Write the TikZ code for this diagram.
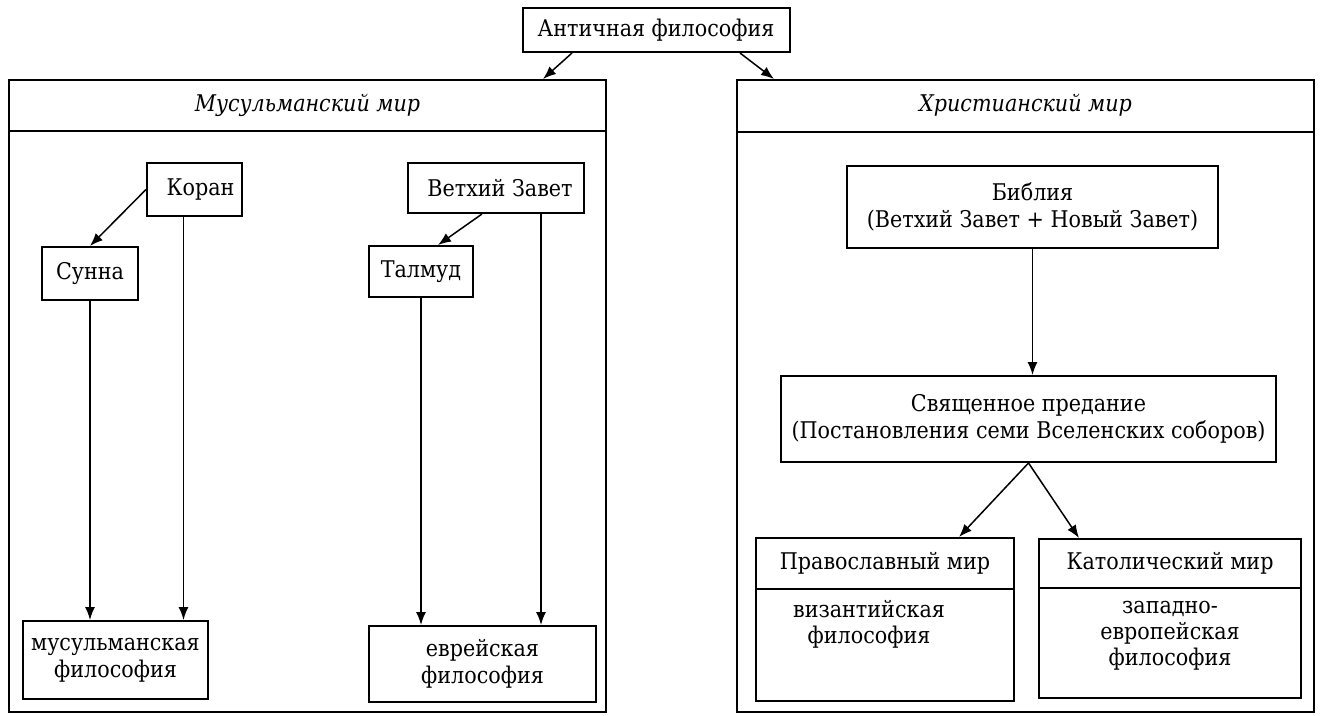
\documentclass[tikz,border=0pt]{standalone}
\usepackage{fontspec}
\setmainfont{DejaVu Serif Condensed}
\usetikzlibrary{positioning, calc, arrows.meta}

\begin{document}
\begin{tikzpicture}[x=1pt, y=-1pt,
            box/.style={rectangle, draw, line width=2pt, inner sep=0pt, align=center, font=\fontsize{23}{27}\selectfont},
            world/.style={rectangle, draw, line width=2pt, inner sep=0pt},
            head/.style={inner sep=0pt, font=\fontsize{23}{27}\selectfont\itshape},
            txt/.style={align=center, inner sep=0pt, font=\fontsize{23}{26}\selectfont},
            link/.style={-{Latex[length=13pt, width=10pt]}, line width=1.5pt},
            divider/.style={line width=2pt}
        ]
            \useasboundingbox (0,0) rectangle (1320,715);

            % Source
            \node[box, minimum width=267pt, minimum height=44pt] (antiq) at (656,30) {Античная философия};

            % Worlds
            \node[world, minimum width=597pt, minimum height=632pt] (muslim) at (307.5,396) {};
            \node[world, minimum width=577pt, minimum height=632pt] (christ) at (1025.5,396) {};
            \draw[divider] ([yshift=-52pt]muslim.north west) -- ([yshift=-52pt]muslim.north east);
            \draw[divider] ([yshift=-53pt]christ.north west) -- ([yshift=-53pt]christ.north east);
            \node[head] (mhead) at ([yshift=-26pt]muslim.north) {Мусульманский мир};
            \node[head] (chead) at ([yshift=-26pt]christ.north) {Христианский мир};

            % Muslim world
            \node[box, minimum width=95pt, minimum height=53pt] (koran) at (194.5,189.5) {\hspace*{12pt}Коран};
            \node[box, minimum width=96pt, minimum height=53pt] (sunna) at (90,273.5) {Сунна};
            \node[box, minimum width=176pt, minimum height=50pt] (tanakh) at (496,188) {\hspace*{8pt}Ветхий Завет};
            \node[box, minimum width=104pt, minimum height=51pt] (talmud) at (421,271.5) {Талмуд};
            \node[box, minimum width=185pt, minimum height=78pt] (mphil) at (115.5,660) {мусульманская\\философия};
            \node[box, minimum width=227pt, minimum height=76pt] (jphil) at (482.5,664) {еврейская\\философия};

            % Christian world
            \node[box, minimum width=371pt, minimum height=82pt] (bible) at (1032.5,207) {Библия\\(Ветхий Завет + Новый Завет)};
            \node[box, minimum width=495pt, minimum height=86pt] (trad) at (1028.5,419) {Священное предание\\(Постановления семи Вселенских соборов)};
            \node[world, minimum width=258pt, minimum height=163pt] (orth) at (885,619.5) {};
            \node[world, minimum width=262pt, minimum height=159pt] (cath) at (1170,618.5) {};
            \draw[divider] ([yshift=-52pt]orth.north west) -- ([yshift=-52pt]orth.north east);
            \draw[divider] ([yshift=-50pt]cath.north west) -- ([yshift=-50pt]cath.north east);
            \node[txt] (orthhead) at ([yshift=-26pt]orth.north) {Православный мир};
            \node[txt] (cathhead) at ([yshift=-25pt]cath.north) {Католический мир};
            \node[txt, anchor=north] (byzphil) at ([xshift=-16pt, yshift=-63pt]orth.north) {византийская\\философия};
            \node[txt, anchor=north] (wphil) at ([yshift=-63pt]cath.north) {западно-\\европейская\\философия};

            % Links
            \draw[link] ([xshift=-84pt]antiq.south) -- ([xshift=235.5pt]muslim.north);
            \draw[link] ([xshift=84pt]antiq.south) -- ([xshift=-251.5pt]christ.north);
            \draw[link] (koran.west) -- (sunna.north);
            \draw[link] ([xshift=-14pt]tanakh.south) -- ([xshift=17pt]talmud.north);
            \draw[link] (sunna.south) -- (sunna.south |- mphil.north);
            \draw[link] ([xshift=-11pt]koran.south) -- ([xshift=-11pt]koran.south |- mphil.north);
            \draw[link] (talmud.south) -- (talmud.south |- jphil.north);
            \draw[link] ([xshift=45pt]tanakh.south) -- ([xshift=45pt]tanakh.south |- jphil.north);
            \draw[link] (bible.south) -- (bible.south |- trad.north);
            \draw[link] (trad.south) -- ([xshift=74pt]orth.north);
            \draw[link] (trad.south) -- ([xshift=-91pt]cath.north);
        \end{tikzpicture}
\end{document}
